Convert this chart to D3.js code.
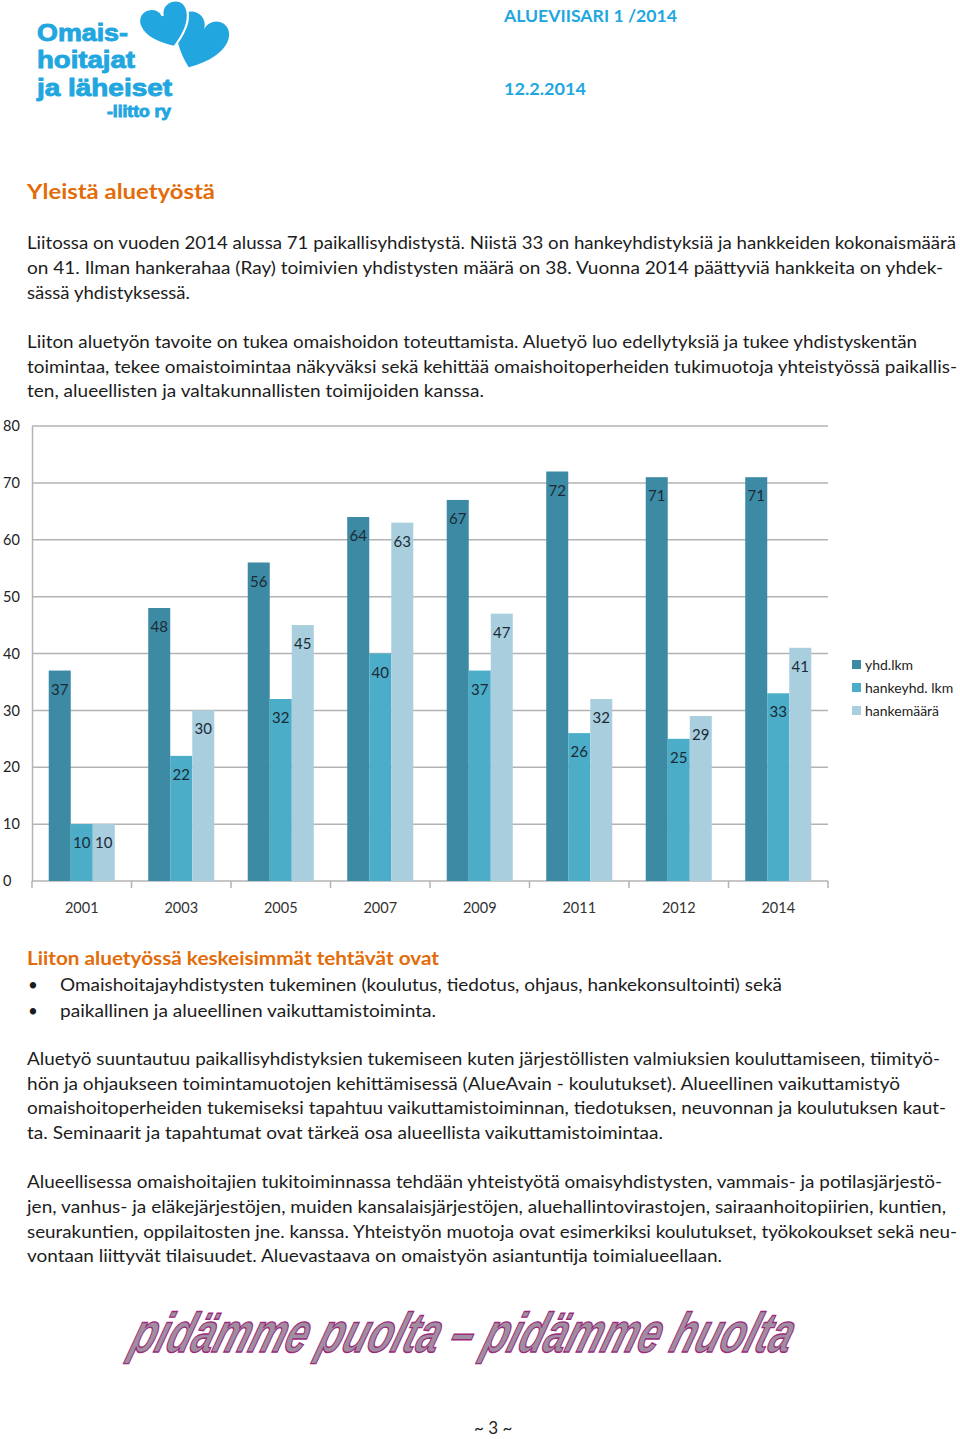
<!DOCTYPE html>
<html><head><meta charset="utf-8">
<script src="https://cdn.jsdelivr.net/npm/d3@7"></script>
<style>
html,body{margin:0;padding:0;background:#fff;}
svg{display:block;}
</style></head>
<body>
<svg id="page" width="960" height="1439"></svg>
<script>
// ---- data ----
const years = ["2001","2003","2005","2007","2009","2011","2012","2014"];
const seriesNames = ["yhd.lkm","hankeyhd. lkm","hankemäärä"];
const yhdLkm = [37,48,56,64,67,72,71,71];
const hankeyhdLkm = [10,22,32,40,37,26,25,33];
const hankemaara = [10,30,45,63,47,32,29,41];
const yTicks = [0,10,20,30,40,50,60,70,80];

const colors = ["#3d8aa4","#4badc7","#a9cfdf"];
const seriesValues = [yhdLkm, hankeyhdLkm, hankemaara];

const svg = d3.select("#page");
const bodyFont = "Lato, Carlito, Calibri, 'Open Sans', sans-serif";
const textCol = "#1c1c1c";
const orange = "#e36c0a";
const blue = "#22a6df";

// ---- logo ----
const heart = "M0,18 C-30,-4 -24,-26 -11,-26 C-4,-26 0,-20 0,-15 C0,-20 4,-26 11,-26 C24,-26 30,-4 0,18 Z";
svg.append("path").attr("d",heart).attr("fill",blue)
  .attr("transform","translate(197,47) rotate(22) scale(1.22,1.22)");
svg.append("path").attr("d",heart).attr("fill",blue).attr("stroke","#fff").attr("stroke-width",2)
  .attr("transform","translate(168,30) rotate(-20) scale(1.15,1.0)");
const logo = [
  {t:"Omais-", x:37, y:41, w:91, s:24},
  {t:"hoitajat", x:37, y:68, w:98, s:24},
  {t:"ja läheiset", x:37, y:96, w:135, s:24},
  {t:"-liitto ry", x:107, y:117, w:64, s:16}
];
svg.selectAll("text.logo").data(logo).join("text").attr("class","logo")
  .attr("x",d=>d.x).attr("y",d=>d.y).text(d=>d.t)
  .attr("font-family","'Liberation Sans', Arial, sans-serif").attr("font-weight","bold")
  .attr("font-size",d=>d.s).attr("fill",blue).attr("stroke",blue).attr("stroke-width",0.9)
  .attr("textLength",d=>d.w).attr("lengthAdjust","spacingAndGlyphs");

// ---- header ----
svg.append("text").attr("x",504).attr("y",22).text("ALUEVIISARI 1 /2014")
  .attr("font-family",bodyFont).attr("font-weight","bold").attr("font-size",17).attr("fill",blue)
  .attr("textLength",173).attr("lengthAdjust","spacingAndGlyphs");
svg.append("text").attr("x",504).attr("y",95).text("12.2.2014")
  .attr("font-family",bodyFont).attr("font-weight","bold").attr("font-size",17).attr("fill",blue)
  .attr("textLength",82).attr("lengthAdjust","spacingAndGlyphs");

// ---- text blocks ----
function line(t,x,y,w,opts={}){
  const el = svg.append("text").attr("x",x).attr("y",y).text(t)
    .attr("font-family",bodyFont).attr("font-size",opts.size||17)
    .attr("fill",opts.fill||textCol).attr("font-weight",opts.weight||"normal");
  if(w) el.attr("textLength",w).attr("lengthAdjust","spacingAndGlyphs");
  return el;
}
line("Yleistä aluetyöstä",27,199,188,{size:21,weight:"bold",fill:orange});
const para1 = [
 ["Liitossa on vuoden 2014 alussa 71 paikallisyhdistystä. Niistä 33 on hankeyhdistyksiä ja hankkeiden kokonaismäärä",249,929],
 ["on 41. Ilman hankerahaa (Ray) toimivien yhdistysten määrä on 38. Vuonna 2014 päättyviä hankkeita on yhdek-",274,916],
 ["sässä yhdistyksessä.",299,163],
 ["Liiton aluetyön tavoite on tukea omaishoidon toteuttamista. Aluetyö luo edellytyksiä ja tukee yhdistyskentän",348,890],
 ["toimintaa, tekee omaistoimintaa näkyväksi sekä kehittää omaishoitoperheiden tukimuotoja yhteistyössä paikallis-",373,930],
 ["ten, alueellisten ja valtakunnallisten toimijoiden kanssa.",397,457]
];
para1.forEach(p=>line(p[0],27,p[1],p[2]));

line("Liiton aluetyössä keskeisimmät tehtävät ovat",27,965,412,{size:19,weight:"bold",fill:orange});
line("•",28,991,null);
line("•",28,1017,null);
line("Omaishoitajayhdistysten tukeminen (koulutus, tiedotus, ohjaus, hankekonsultointi) sekä",60,991,722);
line("paikallinen ja alueellinen vaikuttamistoiminta.",60,1017,376);
const para2 = [
 ["Aluetyö suuntautuu paikallisyhdistyksien tukemiseen kuten järjestöllisten valmiuksien kouluttamiseen, tiimityö-",1065,913],
 ["hön ja ohjaukseen toimintamuotojen kehittämisessä (AlueAvain - koulutukset). Alueellinen vaikuttamistyö",1090,873],
 ["omaishoitoperheiden tukemiseksi tapahtuu vaikuttamistoiminnan, tiedotuksen, neuvonnan ja koulutuksen kaut-",1114,919],
 ["ta. Seminaarit ja tapahtumat ovat tärkeä osa alueellista vaikuttamistoimintaa.",1139,636],
 ["Alueellisessa omaishoitajien tukitoiminnassa tehdään yhteistyötä omaisyhdistysten, vammais- ja potilasjärjestö-",1188,915],
 ["jen, vanhus- ja eläkejärjestöjen, muiden kansalaisjärjestöjen, aluehallintovirastojen, sairaanhoitopiirien, kuntien,",1213,919],
 ["seurakuntien, oppilaitosten jne. kanssa. Yhteistyön muotoja ovat esimerkiksi koulutukset, työkokoukset sekä neu-",1238,930],
 ["vontaan liittyvät tilaisuudet. Aluevastaava on omaistyön asiantuntija toimialueellaan.",1262,695]
];
para2.forEach(p=>line(p[0],27,p[1],p[2]));

// ---- wordart ----
svg.append("text").attr("x",0).attr("y",0).text("pidämme puolta – pidämme huolta")
  .attr("transform","translate(128,1352) skewX(-18) scale(1,1.4)")
  .attr("font-family","'Liberation Sans Narrow','Liberation Sans',sans-serif")
  .attr("font-weight","bold").attr("font-style","italic").attr("font-size",40)
  .attr("fill","#a08ea0").attr("stroke","#9a2a7c").attr("stroke-width",1)
  .attr("textLength",660).attr("lengthAdjust","spacingAndGlyphs");
line("~ 3 ~",474,1434,null,{size:17});

// ---- chart ----
const x = d3.scaleBand().domain(years).range([32,828]).padding(0);
const xi = d3.scaleBand().domain(d3.range(3)).range([0,x.bandwidth()]).paddingInner(0).paddingOuter(0.76);
const y = d3.scaleLinear().domain([0,80]).range([881,426]);

const g = svg.append("g");
// gridlines
g.selectAll("line.grid").data(yTicks).join("line").attr("class","grid")
  .attr("x1",32).attr("x2",828).attr("y1",d=>y(d)).attr("y2",d=>y(d))
  .attr("stroke","#b3b3b3").attr("stroke-width",1.5);
// y axis
const yAxis = g.append("g").attr("transform","translate(32,0)")
  .call(d3.axisLeft(y).tickValues(yTicks).tickSize(0).tickPadding(14));
yAxis.select(".domain").attr("stroke","#b3b3b3").attr("stroke-width",1.5);
yAxis.selectAll("text").attr("font-family",bodyFont).attr("font-size",14.5).attr("fill","#222")
  .attr("text-anchor","start").attr("x",-29);
// x axis
const xAxis = g.append("g").attr("transform","translate(0,881)")
  .call(d3.axisBottom(x).tickSize(0).tickPadding(22));
xAxis.select(".domain").remove();
xAxis.selectAll("text").attr("font-family",bodyFont).attr("font-size",14.5).attr("fill","#333");
g.selectAll("line.xt").data(d3.range(years.length+1)).join("line").attr("class","xt")
  .attr("x1",i=>32+i*x.step()).attr("x2",i=>32+i*x.step()).attr("y1",881).attr("y2",888)
  .attr("stroke","#b3b3b3").attr("stroke-width",1.5);

// bars
const flat = [];
years.forEach((yr,i)=>seriesValues.forEach((vals,s)=>flat.push({yr,s,v:vals[i]})));
g.selectAll("rect.bar").data(flat).join("rect").attr("class","bar")
  .attr("x",d=>x(d.yr)+xi(d.s)).attr("width",xi.bandwidth())
  .attr("y",d=>y(d.v)).attr("height",d=>y(0)-y(d.v)).attr("fill",d=>colors[d.s]);
g.selectAll("text.val").data(flat).join("text").attr("class","val")
  .attr("x",d=>x(d.yr)+xi(d.s)+xi.bandwidth()/2).attr("y",d=>y(d.v)+24)
  .attr("text-anchor","middle").attr("font-family",bodyFont).attr("font-size",15)
  .attr("fill","#1b2a36").text(d=>d.v);

// legend
const lg = g.append("g");
seriesNames.forEach((n,i)=>{
  lg.append("rect").attr("x",852).attr("y",660+i*23).attr("width",9).attr("height",9).attr("fill",colors[i]);
  lg.append("text").attr("x",865).attr("y",670+i*23).text(n)
    .attr("font-family",bodyFont).attr("font-size",14).attr("fill","#222");
});
</script>
</body></html>
